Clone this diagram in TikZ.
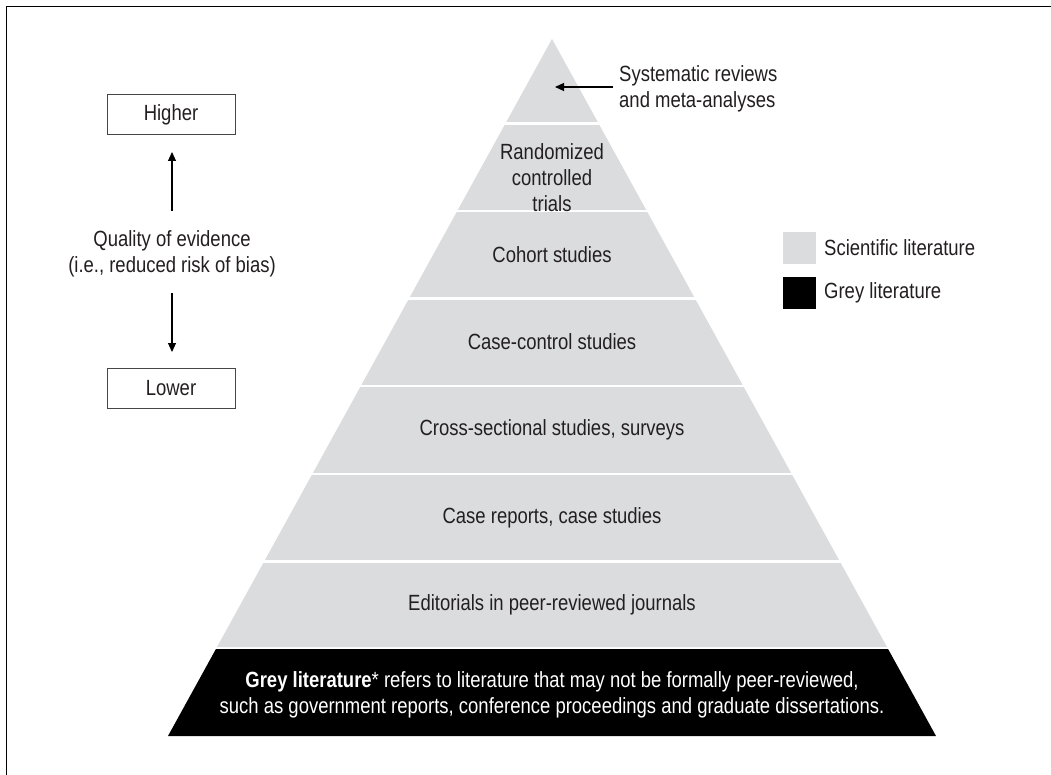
\documentclass[tikz,border=0pt]{standalone}
\usepackage{fontspec}
\setmainfont{Liberation Sans}[FakeStretch=0.84]
\usetikzlibrary{arrows.meta}
\definecolor{sci}{RGB}{219,220,222}
\definecolor{ink}{RGB}{35,31,32}
\definecolor{boxline}{RGB}{70,70,70}
\tikzset{
  lbl/.style={text=ink, font=\fontsize{22}{26}\selectfont, align=center, inner sep=0pt},
  arr/.style={draw=black, line width=1.1pt, -{Triangle[length=9pt,width=8pt]}},
  levelbox/.style={draw=boxline, line width=1pt, minimum width=128pt, minimum height=40pt, inner sep=0pt, text=ink, font=\fontsize{22}{26}\selectfont},
  sep/.style={white, line width=2.5pt},
}
\begin{document}
\begin{tikzpicture}[x=1pt,y=-1pt]
\useasboundingbox (0,0) rectangle (1051,775);
\fill[white] (0,0) rectangle (1051,775);
\draw[line width=1.6pt] (6.5,6.5) rectangle (1070,800);
% pyramid
\fill[sci] (552,39) -- (168+0.5509*89,649-2) -- (936-0.5509*89,649-2) -- cycle;
\fill[black] (168+0.5509*87,649) -- (168,736) -- (936,736) -- (936-0.5509*87,649) -- cycle;
\foreach \yy in {123.5,211,298.5,386,474,561.5}{
  \draw[sep] (150,\yy) -- (950,\yy);
}
% band labels
\node[lbl] (rct) at (552,178) {Randomized\\controlled\\trials};
\node[lbl] (coh) at (552,255) {Cohort studies};
\node[lbl] (cc) at (552,342) {Case-control studies};
\node[lbl] (cs) at (552,430) {Cross-sectional studies, surveys};
\node[lbl] (cr) at (552,518) {Case reports, case studies};
\node[lbl] (ed) at (552,605) {Editorials in peer-reviewed journals};
\node[lbl, text=white] (grey) at (552,695) {\textbf{Grey literature}* refers to literature that may not be formally peer-reviewed,\\such as government reports, conference proceedings and graduate dissertations.};
% systematic reviews
\node[lbl, align=left, anchor=west] (sr) at (619,89) {Systematic reviews\\and meta-analyses};
\coordinate (srtip) at (555,87);
\draw[arr] (613,87) -- (srtip);
% left scale
\node[levelbox] (higher) at (171,115) {Higher};
\node[levelbox] (lower) at (171,388) {Lower};
\node[lbl] (qual) at (172,254) {Quality of evidence\\(i.e., reduced risk of bias)};
\coordinate (upstart) at (172,211);
\coordinate (uptip) at (172,152);
\coordinate (downstart) at (172,293);
\coordinate (downtip) at (172,352);
\draw[arr] (upstart) -- (uptip);
\draw[arr] (downstart) -- (downtip);
% legend
\fill[sci] (783,232) rectangle (816,264);
\fill[black] (783,277) rectangle (816,309);
\node[lbl, anchor=west] (lsci) at (824,248) {Scientific literature};
\node[lbl, anchor=west] (lgrey) at (824,293) {Grey literature};
\end{tikzpicture}
\end{document}
